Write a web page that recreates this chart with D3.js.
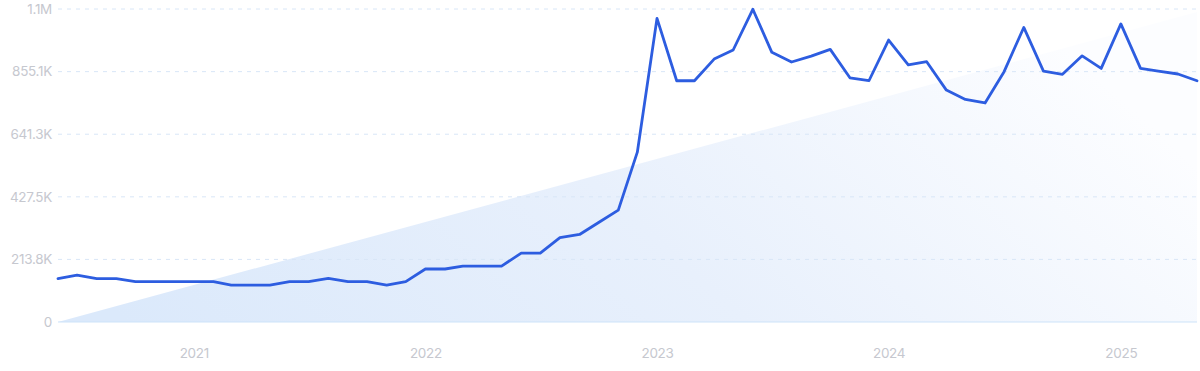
<!DOCTYPE html>
<html>
<head>
<meta charset="utf-8">
<script src="https://cdn.jsdelivr.net/npm/d3@7"></script>
<style>
  html, body { margin: 0; padding: 0; background: #fff; }
  svg { display: block; font-family: Inter, "Noto Sans", sans-serif; }
</style>
</head>
<body>
<svg id="chart" width="1200" height="371"></svg>
<script>
// monthly search volume, June 2020 .. May 2025
var startMonth = '2020-06';
var volumes = [
  148000, 160000, 148000, 148000, 138000, 138000, 138000, 138000, 138000, 126000,
  126000, 126000, 138000, 138000, 149000, 138000, 138000, 126000, 138000, 181000,
  181000, 191000, 191000, 191000, 235000, 235000, 288000, 299000, 340000, 382000,
  580000, 1037000, 824000, 824000, 898000, 929000, 1068000, 921000, 888000, 908000,
  931000, 834000, 824000, 963000, 878000, 889000, 792000, 760000, 748000, 855000,
  1006000, 857000, 846000, 909000, 866000, 1018000, 866000, 857000, 847000, 824000
];
var yTickValues = [0, 213800, 427500, 641300, 855100, 1069000];
var yTickLabels = ['0', '213.8K', '427.5K', '641.3K', '855.1K', '1.1M'];
var xTickYears = [2021, 2022, 2023, 2024, 2025];

var svg = d3.select('#chart'),
    margin = {top: 9, right: 3, bottom: 49, left: 58},
    width = 1200 - margin.left - margin.right,
    height = 371 - margin.top - margin.bottom;

var parseMonth = d3.timeParse('%Y-%m');
var t0 = parseMonth(startMonth);
var data = volumes.map(function (v, i) {
    return {date: d3.timeMonth.offset(t0, i), value: v};
});

var x = d3.scaleTime()
    .domain(d3.extent(data, function (d) { return d.date; }))
    .range([margin.left, margin.left + width]);
var y = d3.scaleLinear()
    .domain([0, yTickValues[yTickValues.length - 1]])
    .range([margin.top + height, margin.top]);

// background wedge gradient
var defs = svg.append('defs');
var grad = defs.append('linearGradient')
    .attr('id', 'wedge')
    .attr('x1', 0).attr('y1', 0.8).attr('x2', 1).attr('y2', 0.5);
grad.append('stop').attr('offset', '0%').attr('stop-color', '#dbe9fb');
grad.append('stop').attr('offset', '50%').attr('stop-color', '#e8f0fc');
grad.append('stop').attr('offset', '100%').attr('stop-color', '#fcfdff');

var x0 = x.range()[0], x1 = x.range()[1];
svg.append('path')
    .attr('d', 'M' + x0 + ',' + y(0) + 'L' + x1 + ',' + (y.range()[1] + 3) + 'L' + x1 + ',' + y(0) + 'Z')
    .attr('fill', 'url(#wedge)');

// grid lines
svg.append('g')
    .selectAll('line')
    .data(yTickValues.slice(1))
    .enter().append('line')
    .attr('x1', x0).attr('x2', x1)
    .attr('y1', function (d) { return y(d); })
    .attr('y2', function (d) { return y(d); })
    .attr('stroke', '#d8e6f7')
    .attr('stroke-width', 1)
    .attr('stroke-dasharray', '4,5');

// baseline
svg.append('line')
    .attr('x1', x0).attr('x2', x1)
    .attr('y1', y(0)).attr('y2', y(0))
    .attr('stroke', '#cde3f9')
    .attr('stroke-width', 1);

// y labels
var yAxis = d3.axisLeft(y)
    .tickValues(yTickValues)
    .tickFormat(function (d, i) { return yTickLabels[i]; })
    .tickSize(0)
    .tickPadding(6);
svg.append('g')
    .attr('transform', 'translate(' + x0 + ',0)')
    .call(yAxis)
    .call(function (g) {
        g.select('.domain').remove();
        g.selectAll('text')
            .attr('fill', '#c6c8cf')
            .style('font-size', '13.5px')
            .style('letter-spacing', '-0.3px')
            .style('font-family', 'Inter, sans-serif');
    });

// x labels
var xAxis = d3.axisBottom(x)
    .tickValues(xTickYears.map(function (yr) { return new Date(yr, 0, 1); }))
    .tickFormat(d3.timeFormat('%Y'))
    .tickSize(0)
    .tickPadding(26);
svg.append('g')
    .attr('transform', 'translate(0,' + y(0) + ')')
    .call(xAxis)
    .call(function (g) {
        g.select('.domain').remove();
        g.selectAll('text')
            .attr('fill', '#c6c8cf')
            .style('font-size', '13.5px')
            .style('letter-spacing', '-0.3px')
            .style('font-family', 'Inter, sans-serif');
    });

// trend line
var line = d3.line()
    .x(function (d) { return x(d.date); })
    .y(function (d) { return y(d.value); });
svg.append('path')
    .datum(data)
    .attr('d', line)
    .attr('fill', 'none')
    .attr('stroke', '#2d5de0')
    .attr('stroke-width', 2.8)
    .attr('stroke-linejoin', 'round')
    .attr('stroke-linecap', 'round');
</script>
</body>
</html>
